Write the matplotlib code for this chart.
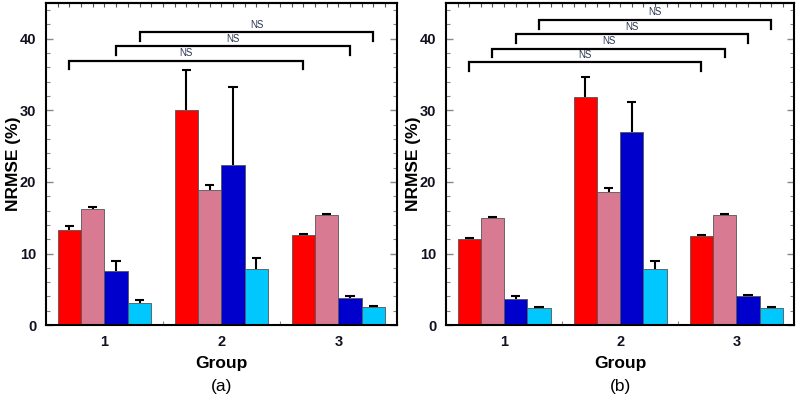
import numpy as np
import matplotlib
matplotlib.use('Agg')
import matplotlib.pyplot as plt
from matplotlib.ticker import MultipleLocator

plt.rcParams['font.family'] = ['Liberation Sans', 'DejaVu Sans']

groups = [1, 2, 3]
series_colors = ['#ff0000', '#d87a92', '#0000cc', '#00c8ff']

# panel (a): mean and upper error per series, one value per group
a_vals = [[13.3, 30.0, 12.6],
          [16.2, 18.9, 15.4],
          [7.6, 22.3, 3.8],
          [3.1, 7.8, 2.5]]
a_errs = [[0.5, 5.6, 0.15],
          [0.3, 0.7, 0.1],
          [1.4, 10.9, 0.3],
          [0.4, 1.6, 0.15]]

# panel (b)
b_vals = [[12.0, 31.8, 12.5],
          [15.0, 18.6, 15.4],
          [3.7, 26.9, 4.1],
          [2.4, 7.9, 2.45]]
b_errs = [[0.15, 2.9, 0.1],
          [0.1, 0.5, 0.1],
          [0.4, 4.3, 0.1],
          [0.1, 1.0, 0.1]]

# significance brackets: (series index, height)
a_brackets = [(0, 36.9), (2, 38.9), (3, 40.9)]
b_brackets = [(0, 36.7), (1, 38.6), (2, 40.6), (3, 42.6)]

width = 0.2
fig = plt.figure(figsize=(8, 3.97), dpi=100)
ax_a = fig.add_axes([0.0575, 0.181, 0.4385, 0.812])
ax_b = fig.add_axes([0.5575, 0.181, 0.4355, 0.812])


def draw_panel(ax, vals, errs, brackets, tag):
    x = np.array(groups, dtype=float)
    for i in range(4):
        pos = x + (i - 1.5) * width
        v = np.array(vals[i])
        e = np.array(errs[i])
        ax.bar(pos, v, width, color=series_colors[i], edgecolor='#555555',
               linewidth=0.6, zorder=2)
        # upper error bars only
        ax.vlines(pos, v, v + e, color='black', lw=1.5, zorder=3)
        ax.hlines(v + e, pos - 0.04, pos + 0.04, color='black', lw=1.5, zorder=3)
    for i, h in brackets:
        x0 = groups[0] + (i - 1.5) * width
        x1 = groups[2] + (i - 1.5) * width
        ax.plot([x0, x0, x1, x1], [h - 1.2, h, h, h - 1.2], color='black', lw=1.6,
                solid_joinstyle='miter', zorder=4)
        ax.text((x0 + x1) / 2, h + 0.35, 'NS', ha='center', va='bottom',
                fontsize=7, color='#2a3550')
    ax.set_xlim(0.5, 3.5)
    ax.set_ylim(0, 45)
    ax.set_xticks(groups)
    ax.xaxis.set_minor_locator(MultipleLocator(0.5))
    ax.yaxis.set_major_locator(MultipleLocator(10))
    ax.yaxis.set_minor_locator(MultipleLocator(2))
    ax.tick_params(which='both', direction='in', top=False, right=True,
                   colors='#888888', labelcolor='#111122')
    ax.tick_params(which='major', length=5, width=1, labelsize=10.5, pad=7)
    ax.tick_params(which='minor', length=3, width=0.8)
    for lab in ax.get_xticklabels() + ax.get_yticklabels():
        lab.set_fontweight('bold')
    # fine ticks along the top
    sec = ax.secondary_xaxis('top')
    sec.set_xticks(np.arange(0.6, 3.5, 0.1))
    sec.tick_params(direction='in', length=3, width=0.8, colors='#555555', labeltop=False)
    for s in ax.spines.values():
        s.set_linewidth(1.5)
    sec.spines['top'].set_linewidth(1.5)
    ax.text(-0.092, 0.5, 'NRMSE (%)', transform=ax.transAxes, rotation=90,
            ha='center', va='center', fontsize=12.5, fontweight='bold')
    ax.text(0.5, -0.12, 'Group', transform=ax.transAxes, ha='center', va='center',
            fontsize=12.5, fontweight='bold')
    ax.text(0.5, -0.19, tag, transform=ax.transAxes, ha='center', va='center',
            fontsize=12.5)


draw_panel(ax_a, a_vals, a_errs, a_brackets, '(a)')
draw_panel(ax_b, b_vals, b_errs, b_brackets, '(b)')

fig.savefig('out.png', dpi=100)
